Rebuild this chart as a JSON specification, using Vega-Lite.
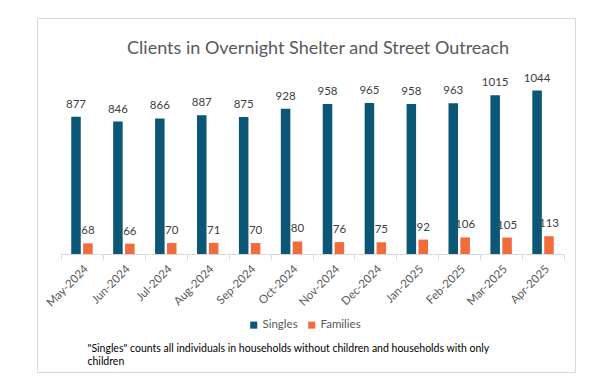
{
  "$schema": "https://vega.github.io/schema/vega-lite/v6.json",
  "width": 538,
  "height": 354,
  "autosize": {"type": "none"},
  "padding": {"left": 37, "top": 18, "right": 29, "bottom": 10},
  "background": "white",
  "config": {"view": {"stroke": "#d9d9d9", "strokeWidth": 1}, "font": "Lato"},
  "title": {
    "text": "Clients in Overnight Shelter and Street Outreach",
    "fontSize": 18,
    "fontWeight": "normal",
    "color": "#595959",
    "anchor": "middle",
    "offset": -40,
    "dx": 12
  },
  "data": {
    "values": [
      {"month": "May-2024", "series": "Singles", "value": 877},
      {"month": "May-2024", "series": "Families", "value": 68},
      {"month": "Jun-2024", "series": "Singles", "value": 846},
      {"month": "Jun-2024", "series": "Families", "value": 66},
      {"month": "Jul-2024", "series": "Singles", "value": 866},
      {"month": "Jul-2024", "series": "Families", "value": 70},
      {"month": "Aug-2024", "series": "Singles", "value": 887},
      {"month": "Aug-2024", "series": "Families", "value": 71},
      {"month": "Sep-2024", "series": "Singles", "value": 875},
      {"month": "Sep-2024", "series": "Families", "value": 70},
      {"month": "Oct-2024", "series": "Singles", "value": 928},
      {"month": "Oct-2024", "series": "Families", "value": 80},
      {"month": "Nov-2024", "series": "Singles", "value": 958},
      {"month": "Nov-2024", "series": "Families", "value": 76},
      {"month": "Dec-2024", "series": "Singles", "value": 965},
      {"month": "Dec-2024", "series": "Families", "value": 75},
      {"month": "Jan-2025", "series": "Singles", "value": 958},
      {"month": "Jan-2025", "series": "Families", "value": 92},
      {"month": "Feb-2025", "series": "Singles", "value": 963},
      {"month": "Feb-2025", "series": "Families", "value": 106},
      {"month": "Mar-2025", "series": "Singles", "value": 1015},
      {"month": "Mar-2025", "series": "Families", "value": 105},
      {"month": "Apr-2025", "series": "Singles", "value": 1044},
      {"month": "Apr-2025", "series": "Families", "value": 113}
    ]
  },
  "encoding": {
    "x": {
      "field": "month",
      "type": "nominal",
      "scale": {
        "domain": ["May-2024", "Jun-2024", "Jul-2024", "Aug-2024", "Sep-2024", "Oct-2024", "Nov-2024", "Dec-2024", "Jan-2025", "Feb-2025", "Mar-2025", "Apr-2025"],
        "range": [24, 527],
        "paddingInner": 0,
        "paddingOuter": 0
      },
      "axis": {
        "orient": "bottom",
        "offset": -118,
        "labelAngle": -45,
        "labelFontSize": 11.5,
        "labelColor": "#595959",
        "labelPadding": 4,
        "domain": true,
        "domainColor": "#d9d9d9",
        "ticks": true,
        "tickBand": "extent",
        "tickColor": "#d9d9d9",
        "tickSize": 5,
        "title": ["\"Singles\" counts all individuals in households without children and households with only", "children"],
        "titleX": 50,
        "titleY": 97,
        "titleAlign": "left",
        "titleAnchor": "start",
        "titleBaseline": "alphabetic",
        "titleFontSize": 10.5,
        "titleFontWeight": "normal",
        "titleColor": "#000000",
        "titleLineHeight": 13,
        "titleAngle": 0
      }
    },
    "xOffset": {
      "field": "series",
      "type": "nominal",
      "scale": {"domain": ["Singles", "Families"], "paddingInner": 0.2, "paddingOuter": 0.86}
    },
    "y": {
      "field": "value",
      "type": "quantitative",
      "scale": {"domain": [-754, 1508], "nice": false, "zero": false},
      "axis": null
    }
  },
  "layer": [
    {
      "mark": {"type": "text", "dy": -12, "fontSize": 11.5, "color": "#404040", "baseline": "middle"},
      "encoding": {
        "text": {"field": "value", "type": "quantitative"}
      }
    },
    {
      "mark": {"type": "bar"},
      "encoding": {
        "y2": {"datum": 0},
        "color": {
          "field": "series",
          "type": "nominal",
          "scale": {"domain": ["Singles", "Families"], "range": ["#0B5775", "#F26B3C"]},
          "legend": {
            "orient": "none",
            "legendX": 211,
            "legendY": 301,
            "direction": "horizontal",
            "title": null,
            "symbolType": "square",
            "symbolSize": 50,
            "symbolStrokeWidth": 0,
            "labelFontSize": 11.5,
            "labelColor": "#595959",
            "columnPadding": 8,
            "labelOffset": 3
          }
        }
      }
    }
  ]
}
